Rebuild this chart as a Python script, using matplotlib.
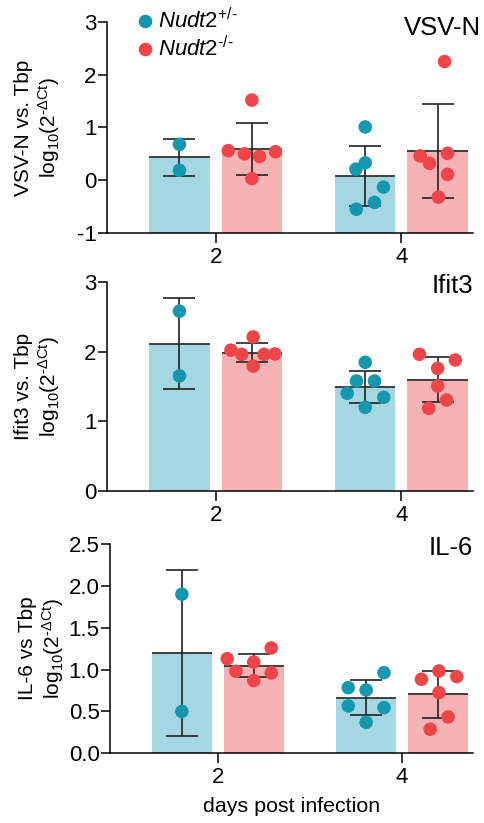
import numpy as np
import matplotlib
matplotlib.use('Agg')
import matplotlib.pyplot as plt
from matplotlib.lines import Line2D

plt.rcParams['font.family'] = ['Liberation Sans', 'DejaVu Sans']
plt.rcParams['mathtext.fontset'] = 'custom'
plt.rcParams['mathtext.rm'] = 'Liberation Sans'
plt.rcParams['mathtext.it'] = 'Liberation Sans:italic'

# data (log10 of 2^-dCt)
days = ['2', '4']

vsv_het_d2 = [0.68, 0.19]
vsv_ko_d2 = [1.52, 0.56, 0.50, 0.45, 0.54, 0.03]
vsv_het_d4 = [1.01, 0.33, 0.21, -0.13, -0.42, -0.55]
vsv_ko_d4 = [2.25, 0.51, 0.46, 0.32, 0.11, -0.32]

ifit_het_d2 = [2.58, 1.65]
ifit_ko_d2 = [2.21, 2.02, 1.96, 1.96, 1.965, 1.79]
ifit_het_d4 = [1.845, 1.576, 1.576, 1.40, 1.342, 1.198]
ifit_ko_d4 = [1.96, 1.878, 1.758, 1.505, 1.303, 1.183]

il6_het_d2 = [1.90, 0.50]
il6_ko_d2 = [1.258, 1.13, 1.09, 0.98, 0.96, 0.868]
il6_het_d4 = [0.963, 0.784, 0.756, 0.565, 0.545, 0.37]
il6_ko_d4 = [0.983, 0.884, 0.916, 0.725, 0.434, 0.287]

# horizontal spread of the dots (beeswarm-like), in category units
jit_vsv = [[0, 0], [0, -0.127, -0.04, 0.041, 0.127, 0],
           [0, 0, -0.05, 0.098, 0.05, -0.048], [0.037, 0.053, -0.094, -0.044, 0.053, 0.004]]
jit_ifit = [[0, 0], [0.007, -0.113, -0.055, 0.066, 0.124, 0.007],
            [0, -0.047, 0.05, -0.097, 0.1, 0], [-0.098, 0.095, 0, 0, 0.048, -0.048]]
jit_il6 = [[0, 0], [0.095, -0.144, 0, -0.097, 0.095, 0],
           [0.097, -0.097, 0, -0.097, 0.097, 0], [0.005, -0.09, 0.102, 0.005, 0.055, -0.043]]

panels = [
    ('VSV-N', 'VSV-N vs. Tbp', [vsv_het_d2, vsv_ko_d2, vsv_het_d4, vsv_ko_d4], jit_vsv,
     (-1, 3), [-1, 0, 1, 2, 3], '%d'),
    ('Ifit3', 'Ifit3 vs. Tbp', [ifit_het_d2, ifit_ko_d2, ifit_het_d4, ifit_ko_d4], jit_ifit,
     (0, 3), [0, 1, 2, 3], '%d'),
    ('IL-6', 'IL-6 vs Tbp', [il6_het_d2, il6_ko_d2, il6_het_d4, il6_ko_d4], jit_il6,
     (0, 2.5), [0, 0.5, 1.0, 1.5, 2.0, 2.5], '%.1f'),
]

bar_colors = ['#A4D7E1', '#F6B2B4']
dot_colors = ['#1597B0', '#EE4549']

fig = plt.figure(figsize=(4.85, 8.23), dpi=100)
axes_rects = [
    [0.2206, 0.7169, 0.7546, 0.2564],
    [0.2206, 0.4038, 0.7546, 0.2536],
    [0.2268, 0.0847, 0.7485, 0.2543],
]
title_y = [1.03, 1.04, 1.04]

hy = '\u2010'
ylab2 = r'log$_{10}$(2$^{\mathrm{' + hy + r'\Delta Ct}}$)'

off = 0.195
width = 0.325
for k, (title, ylab, groups, jits, ylim, yticks, fmt) in enumerate(panels):
    ax = fig.add_axes(axes_rects[k])
    for i, vals in enumerate(groups):
        g = i % 2
        x0 = i // 2 + (off if g else -off)
        vals = np.array(vals)
        m = vals.mean()
        sd = vals.std(ddof=1)
        ax.bar(x0, m - ylim[0], bottom=ylim[0], width=width, color=bar_colors[g], zorder=1)
        ax.hlines(m, x0 - width / 2, x0 + width / 2, color='#333333', lw=1.3, zorder=2)
        ax.errorbar(x0, m, yerr=sd, color='#222222', lw=1.2, capsize=11.5,
                    capthick=1.2, zorder=2)
        ax.scatter(x0 + np.array(jits[i]), vals, s=95, color=dot_colors[g],
                   edgecolors='none', zorder=3, clip_on=False)
    ax.set_xlim(-0.585, 1.385)
    ax.set_ylim(*ylim)
    ax.set_yticks(yticks)
    ax.set_yticklabels([fmt % t for t in yticks])
    ax.set_xticks([0, 1])
    ax.set_xticklabels(days)
    for s in ['top', 'right']:
        ax.spines[s].set_visible(False)
    for s in ['left', 'bottom']:
        ax.spines[s].set_linewidth(1.1)
    ax.tick_params(axis='both', direction='out', length=6.5, width=1.1, labelsize=16, pad=1)
    ax.tick_params(axis='x', length=7, pad=3)
    ax.set_ylabel(ylab + '\n' + ylab2, fontsize=15, linespacing=1.15)
    ax.yaxis.set_label_coords(-0.122, 0.5)
    ax.text(1.0 if k else 1.022, title_y[k], title, transform=ax.transAxes, ha='right',
            va='top', fontsize=18.5)
    if k == 0:
        handles = [Line2D([], [], ls='none', marker='o', markersize=9.8,
                          markerfacecolor=c, markeredgecolor='none') for c in dot_colors]
        labels = [r'$\mathit{Nudt2}^{\mathit{+/' + hy + '}}$',
                  r'$\mathit{Nudt2}^{\mathit{' + hy + '/' + hy + '}}$']
        ax.legend(handles, labels, loc='upper left', bbox_to_anchor=(0.043, 1.106),
                  frameon=False, fontsize=16, handletextpad=0.0, labelspacing=0.12,
                  borderaxespad=0, handlelength=1.2)
    if k == 2:
        ax.set_xlabel('days post infection', fontsize=15.4, labelpad=6)

fig.savefig('out.png', dpi=100)
